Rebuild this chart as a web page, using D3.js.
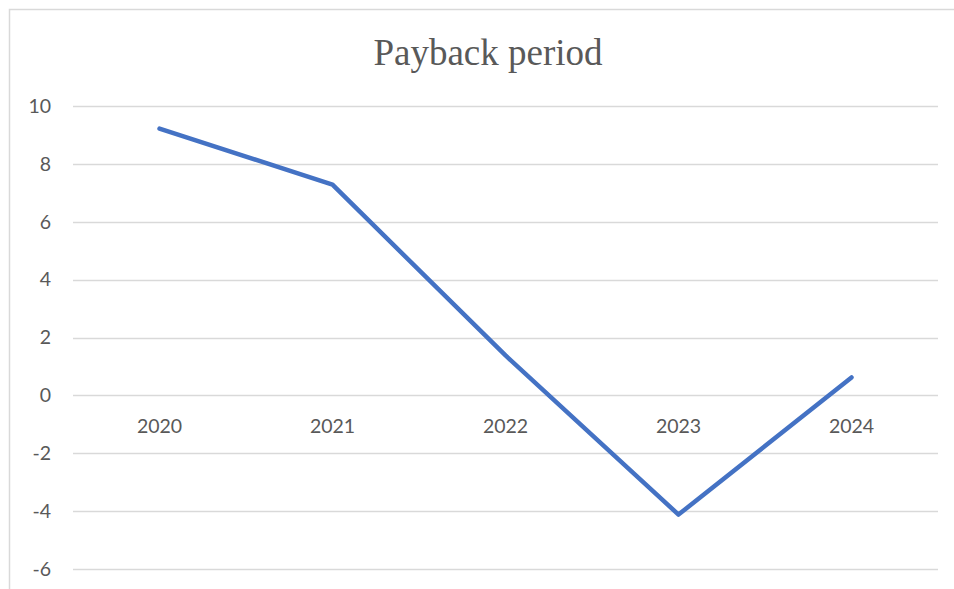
<!DOCTYPE html>
<html lang="en">
<head>
  <meta charset="UTF-8">
  <title>Payback period</title>
  <style>
body { margin: 0; background: #fff; }
  </style>
</head>
<body>
  <div id="chart"></div>
  <script src="https://d3js.org/d3.v7.min.js"></script>
  <script>
// data
const years = ["2020", "2021", "2022", "2023", "2024"];
const payback = [9.22, 7.28, 1.38, -4.12, 0.62];
const yTicks = [-6, -4, -2, 0, 2, 4, 6, 8, 10];

const width = 954;
const height = 589;

const svg = d3.select("#chart").append("svg")
  .attr("width", width)
  .attr("height", height);

// chart frame (cropped on the right and bottom)
svg.append("rect")
  .attr("x", 9.5)
  .attr("y", 9.5)
  .attr("width", 970)
  .attr("height", 620)
  .attr("fill", "none")
  .attr("stroke", "#d9d9d9")
  .attr("stroke-width", 1.5);

const x = d3.scaleBand()
  .domain(years)
  .range([73, 938])
  .padding(0);

const y = d3.scaleLinear()
  .domain([-6, 10])
  .range([569, 106]);

// gridlines
svg.append("g")
  .selectAll("line")
  .data(yTicks)
  .join("line")
  .attr("x1", 73)
  .attr("x2", 938)
  .attr("y1", d => Math.round(y(d)) + 0.5)
  .attr("y2", d => Math.round(y(d)) + 0.5)
  .attr("stroke", "#d9d9d9")
  .attr("stroke-width", 1.5);

// y tick labels
svg.append("g")
  .selectAll("text")
  .data(yTicks)
  .join("text")
  .attr("x", 51)
  .attr("y", d => y(d))
  .attr("dy", "0.35em")
  .attr("text-anchor", "end")
  .attr("fill", "#595959")
  .style("font-family", "Lato, 'Open Sans', sans-serif")
  .style("font-size", "19.5px")
  .text(d => d);

// category labels sit just under the zero line
svg.append("g")
  .selectAll("text")
  .data(years)
  .join("text")
  .attr("x", d => x(d) + x.bandwidth() / 2)
  .attr("y", y(0) + 31)
  .attr("dy", "0.35em")
  .attr("text-anchor", "middle")
  .attr("fill", "#595959")
  .style("font-family", "Lato, 'Open Sans', sans-serif")
  .style("font-size", "19.5px")
  .text(d => d);

// the series
const line = d3.line()
  .x((d, i) => x(years[i]) + x.bandwidth() / 2)
  .y(d => y(d));

svg.append("path")
  .datum(payback)
  .attr("fill", "none")
  .attr("stroke", "#4472c4")
  .attr("stroke-width", 4.5)
  .attr("stroke-linecap", "round")
  .attr("stroke-linejoin", "round")
  .attr("d", line);

// title
svg.append("text")
  .attr("x", 488)
  .attr("y", 65)
  .attr("text-anchor", "middle")
  .attr("fill", "#595959")
  .style("font-family", "'Liberation Serif', 'Times New Roman', serif")
  .style("font-size", "37px")
  .text("Payback period");
  </script>
</body>
</html>
